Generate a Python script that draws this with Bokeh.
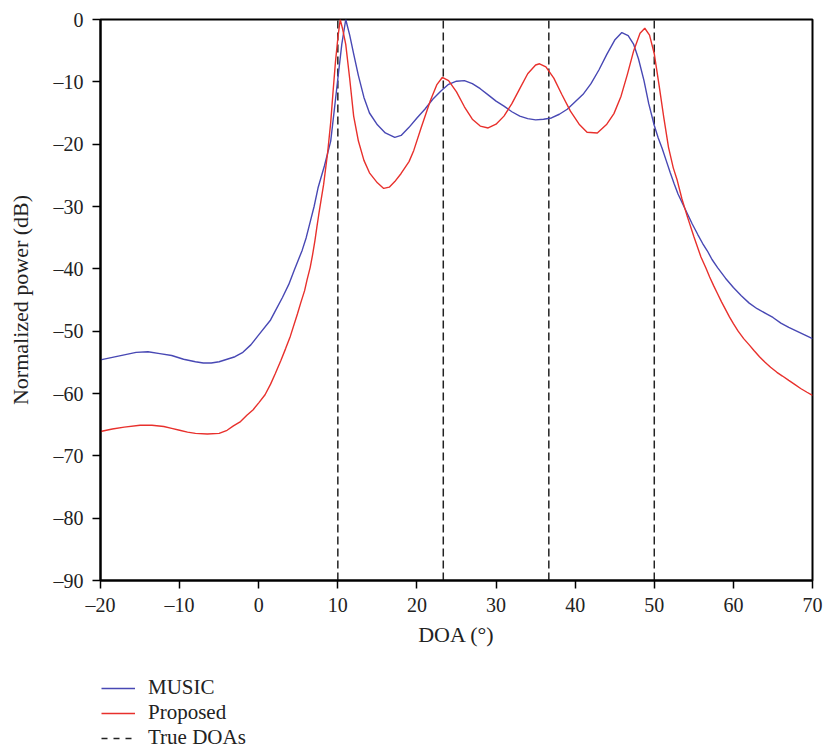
from bokeh.plotting import figure
from bokeh.models import Range1d, Legend, LegendItem, FixedTicker
from bokeh.layouts import column
from bokeh.embed import file_html
from bokeh.resources import INLINE

# ---- data ----
music_x = [-20, -18.5, -17, -15.5, -14, -12.5, -11, -9.5, -8, -7, -6, -5, -4, -3, -2, -1, 0, 1.5, 2.2,
           3, 3.8, 4.5, 5.5, 6.0, 6.5, 7.0, 7.5, 8.3, 9.1, 9.6, 10.0, 10.5, 11.0, 11.5, 12.0, 12.6,
           13.3, 14.0, 15.0, 16.0, 17.2, 18.0, 19.0, 20.0, 21.0, 22.0, 23.0, 24.0, 25.0, 26.0, 27.0,
           28.0, 29.0, 30.0, 31.0, 32.0, 33.0, 34.0, 35.0, 36.0, 37.0, 38.0, 39.0, 40.0, 41.0, 42.0,
           43.0, 44.0, 45.0, 45.9, 46.7, 47.4, 48.0, 48.7, 49.3, 50.0, 50.5, 51.0, 51.5, 52.0, 52.5,
           53.0, 53.6, 54.2, 54.8, 55.5, 56.1, 56.7, 57.3, 58.0, 59.0, 60.0, 61.0, 62.0, 63.0, 64.3,
           65.0, 66.0, 67.0, 68.0, 69.0, 70.0]
music_y = [-54.6, -54.2, -53.8, -53.4, -53.3, -53.6, -53.9, -54.5, -54.9, -55.1, -55.1, -54.9, -54.5,
           -54.1, -53.4, -52.2, -50.6, -48.2, -46.5, -44.6, -42.5, -40.2, -37.0, -35.0, -32.5, -30.0,
           -27.0, -23.5, -19.5, -14.0, -9.5, -4.0, 0.0, -2.5, -5.5, -9.0, -12.5, -15.0, -16.9, -18.2,
           -18.9, -18.6, -17.3, -15.8, -14.4, -12.8, -11.5, -10.4, -9.9, -9.8, -10.3, -11.1, -12.1,
           -13.1, -13.9, -14.8, -15.5, -15.9, -16.1, -16.0, -15.8, -15.2, -14.4, -13.2, -12.0, -10.3,
           -8.1, -5.6, -3.3, -2.1, -2.6, -4.0, -6.3, -9.8, -13.5, -17.0, -19.0, -20.7, -22.6, -24.5,
           -26.3, -28.0, -29.6, -31.2, -32.8, -34.5, -35.9, -37.1, -38.5, -39.8, -41.5, -43.0, -44.3,
           -45.5, -46.4, -47.3, -47.8, -48.7, -49.4, -50.0, -50.6, -51.2]

prop_x = [-20, -18.5, -17, -15, -13.5, -12, -11, -10, -9, -8, -6.5, -5, -4, -3.2, -2.3, -1.5, -0.7, 0,
          0.8, 1.5, 2.1, 2.8, 3.4, 4.0, 4.9, 5.3, 5.8, 6.1, 6.5, 6.8, 7.1, 7.35, 7.6, 7.9, 8.2, 8.7,
          9.1, 9.4, 9.7, 10.0, 10.3, 10.6, 11.0, 11.5, 12.0, 12.6, 13.3, 14.0, 15.0, 15.8, 16.5, 17.2,
          18.0, 19.0, 19.6, 20.5, 21.7, 22.5, 23.2, 24.0, 25.0, 26.0, 27.0, 28.0, 29.0, 30.0, 31.0,
          32.0, 33.0, 34.0, 35.0, 35.5, 36.3, 37.3, 38.3, 39.4, 40.5, 41.5, 42.8, 44.0, 44.9, 45.8,
          46.6, 47.4, 48.2, 48.8, 49.4, 50.0, 50.6, 51.2, 51.8, 52.4, 52.9, 53.5, 54.2, 55.0, 55.9,
          56.5, 57.0, 57.5, 58.0, 58.5, 59.0, 59.5, 60.0, 60.6, 61.3, 62.0, 62.6, 63.3, 64.0, 64.7,
          65.5, 66.2, 67.0, 67.7, 68.5, 69.3, 70.0]
prop_y = [-66.1, -65.7, -65.4, -65.1, -65.1, -65.3, -65.6, -65.9, -66.2, -66.4, -66.5, -66.4, -65.9,
          -65.2, -64.5, -63.5, -62.6, -61.5, -60.2, -58.5, -56.8, -54.7, -52.8, -50.8, -47.2, -45.5,
          -43.5, -41.8, -39.8, -37.8, -35.5, -33.3, -31.2, -28.8, -26.5, -21.5, -16.5, -11.5, -6.8,
          -3.0, 0.0, -1.5, -4.0, -9.5, -15.5, -19.5, -22.6, -24.6, -26.2, -27.1, -26.9, -26.0, -24.7,
          -22.8, -21.0, -17.5, -13.0, -10.5, -9.3, -9.8, -11.6, -14.0, -16.0, -17.1, -17.4, -16.8,
          -15.5, -13.5, -11.1, -8.7, -7.3, -7.1, -7.6, -9.4, -12.0, -14.7, -16.8, -18.1, -18.2, -16.8,
          -15.1, -12.3, -8.8, -5.0, -2.2, -1.4, -2.5, -5.5, -10.5, -15.7, -20.5, -23.8, -25.8, -28.8,
          -31.7, -34.8, -38.1, -39.8, -41.3, -42.7, -44.0, -45.3, -46.5, -47.7, -48.8, -50.0, -51.2,
          -52.2, -53.1, -54.1, -55.0, -55.8, -56.6, -57.2, -57.9, -58.5, -59.2, -59.8, -60.3]

true_doas = [10.0, 23.33, 36.67, 50.0]
x_ticks = [-20, -10, 0, 10, 20, 30, 40, 50, 60, 70]
y_ticks = [0, -10, -20, -30, -40, -50, -60, -70, -80, -90]
series_labels = ["MUSIC", "Proposed", "True DOAs"]

FONT = "Liberation Serif"
BLUE = "#4848B4"
RED = "#E8302C"
DARK = "#222222"

p = figure(width=829, height=670, output_backend="svg", toolbar_location=None,
           x_range=Range1d(-20, 70), y_range=Range1d(-90, 0),
           min_border_left=100, min_border_right=17, min_border_top=19, min_border_bottom=90)
p.grid.visible = False
p.background_fill_color = "white"
p.border_fill_color = "white"
p.outline_line_color = "black"
p.outline_line_width = 2

def minus(v):
    return ("\u2013" + str(abs(v))) if v < 0 else str(v)

for ax, ticks in ((p.xaxis, x_ticks), (p.yaxis, y_ticks)):
    ax.ticker = FixedTicker(ticks=ticks)
    ax.major_label_overrides = {t: minus(t) for t in ticks}
    ax.minor_tick_line_color = None
    ax.major_tick_out = 8
    ax.major_tick_in = 0
    ax.major_tick_line_width = 1.5
    ax.axis_line_width = 2
    ax.major_label_text_font = FONT
    ax.major_label_text_font_size = "20px"
    ax.major_label_text_color = DARK
    ax.axis_label_text_font = FONT
    ax.axis_label_text_font_size = "22px"
    ax.axis_label_text_font_style = "normal"
    ax.axis_label_text_color = DARK

p.xaxis.axis_label = "DOA (°)"
p.yaxis.axis_label = "Normalized power (dB)"
p.xaxis.major_label_standoff = 5
p.yaxis.major_label_standoff = 9
p.xaxis.axis_label_standoff = 3
p.yaxis.axis_label_standoff = 18

for d in true_doas:
    p.line(x=[d, d], y=[-90, 0], line_color=DARK, line_width=1.5, line_dash="8 4")

p.line(music_x, music_y, line_color=BLUE, line_width=1.4)
p.line(prop_x, prop_y, line_color=RED, line_width=1.4)

# ---- legend strip below the chart ----
q = figure(width=829, height=80, output_backend="svg", toolbar_location=None,
           x_range=Range1d(0, 1), y_range=Range1d(0, 1),
           min_border_left=0, min_border_right=0, min_border_top=0, min_border_bottom=0)
q.axis.visible = False
q.grid.visible = False
q.outline_line_color = None
q.border_fill_color = "white"
q.background_fill_color = "white"
# sample lines kept outside the visible range; only their legend glyphs show
l1 = q.line([-5, -4], [-5, -5], line_color=BLUE, line_width=1.4)
l2 = q.line([-5, -4], [-5, -5], line_color=RED, line_width=1.4)
l3 = q.line([-5, -4], [-5, -5], line_color=DARK, line_width=1.5, line_dash="6 6")

legend = Legend(items=[
    LegendItem(label=series_labels[0], renderers=[l1]),
    LegendItem(label=series_labels[1], renderers=[l2]),
    LegendItem(label=series_labels[2], renderers=[l3]),
], location=(1, 0))
legend.border_line_color = None
legend.background_fill_alpha = 0
legend.label_text_font = FONT
legend.label_text_font_size = "21px"
legend.label_text_color = DARK
legend.glyph_width = 34
legend.glyph_height = 20
legend.label_height = 20
legend.spacing = 0
legend.label_standoff = 13
legend.padding = 0
legend.margin = 0
q.add_layout(legend)

open("out.html", "w").write(file_html(column(p, q, spacing=0), INLINE))
